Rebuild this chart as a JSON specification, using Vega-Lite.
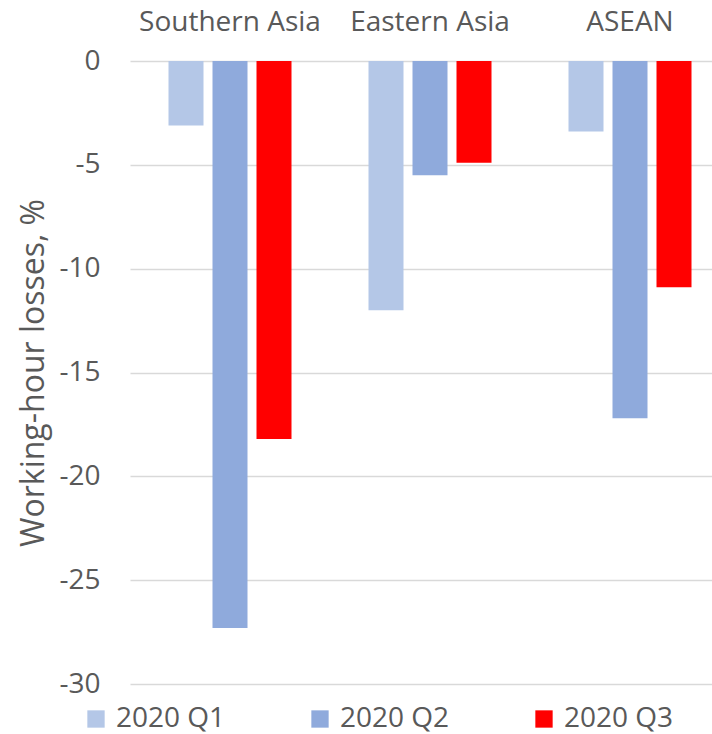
{
  "$schema": "https://vega.github.io/schema/vega-lite/v6.json",
  "autosize": "none",
  "width": 582,
  "height": 623,
  "padding": {"left": 130, "top": 61, "right": 0, "bottom": 50},
  "background": "white",
  "config": {
    "view": {"stroke": null},
    "font": "Open Sans",
    "axis": {"labelFont": "Open Sans", "titleFont": "Open Sans", "labelColor": "#595959", "titleColor": "#595959"},
    "legend": {"labelFont": "Open Sans", "labelColor": "#595959"}
  },
  "data": {
    "values": [
      {"region": "Southern Asia", "quarter": "2020 Q1", "value": -3.1},
      {"region": "Southern Asia", "quarter": "2020 Q2", "value": -27.3},
      {"region": "Southern Asia", "quarter": "2020 Q3", "value": -18.2},
      {"region": "Eastern Asia", "quarter": "2020 Q1", "value": -12.0},
      {"region": "Eastern Asia", "quarter": "2020 Q2", "value": -5.5},
      {"region": "Eastern Asia", "quarter": "2020 Q3", "value": -4.9},
      {"region": "ASEAN", "quarter": "2020 Q1", "value": -3.4},
      {"region": "ASEAN", "quarter": "2020 Q2", "value": -17.2},
      {"region": "ASEAN", "quarter": "2020 Q3", "value": -10.9}
    ]
  },
  "mark": {"type": "bar"},
  "encoding": {
    "x": {
      "field": "region",
      "type": "nominal",
      "sort": ["Southern Asia", "Eastern Asia", "ASEAN"],
      "scale": {"range": [0, 600], "paddingInner": 0.385, "paddingOuter": 0.1925},
      "axis": {
        "orient": "top",
        "title": null,
        "domain": false,
        "ticks": false,
        "labelAngle": 0,
        "labelFontSize": 28,
        "labelPadding": 25,
        "labelLimit": 0,
        "labelOverlap": false
      }
    },
    "xOffset": {
      "field": "quarter",
      "type": "nominal",
      "scale": {"paddingInner": 0.2045, "paddingOuter": 0}
    },
    "y": {
      "field": "value",
      "type": "quantitative",
      "scale": {"domain": [-30, 0], "nice": false, "zero": true},
      "axis": {
        "title": "Working-hour losses, %",
        "titleFontSize": 32,
        "titleFontWeight": "normal",
        "titlePadding": 8,
        "values": [-30, -25, -20, -15, -10, -5, 0],
        "labelExpr": "'' + datum.value",
        "labelFontSize": 28,
        "labelPadding": 30,
        "ticks": false,
        "domain": false,
        "grid": true,
        "gridColor": "#D9D9D9",
        "gridWidth": 1.5
      }
    },
    "color": {
      "field": "quarter",
      "type": "nominal",
      "scale": {"domain": ["2020 Q1", "2020 Q2", "2020 Q3"], "range": ["#B4C7E7", "#8FAADC", "#FF0000"]},
      "legend": {
        "title": null,
        "orient": "none",
        "direction": "horizontal",
        "columns": 3,
        "legendX": -48,
        "legendY": 644,
        "padding": 0,
        "symbolType": "square",
        "symbolSize": 300,
        "symbolStrokeWidth": 0,
        "symbolOffset": 0,
        "labelOffset": 6,
        "labelFontSize": 28,
        "columnPadding": 80
      }
    }
  }
}
